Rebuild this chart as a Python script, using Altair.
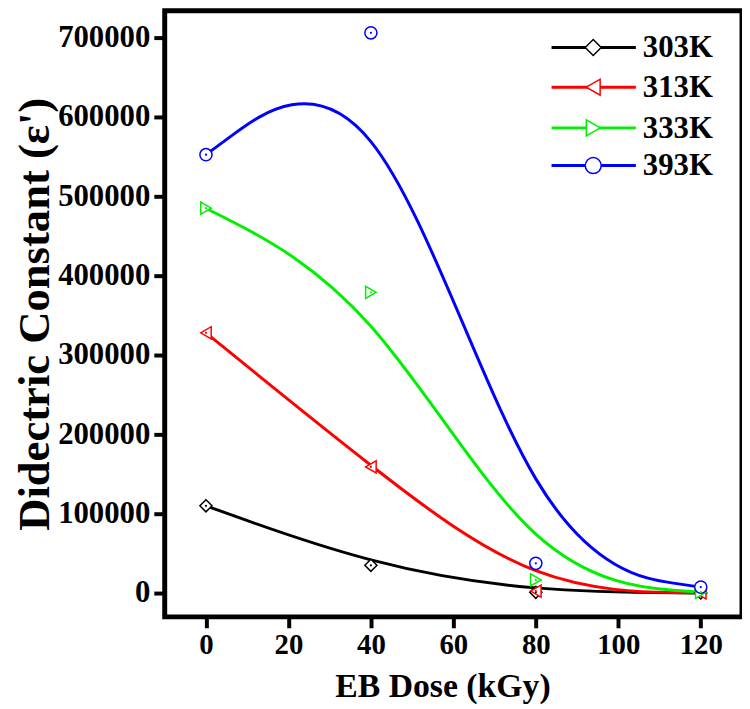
import altair as alt
import pandas as pd

# ---- data ----
dose = [0, 40, 80, 120]
series = ["303K", "313K", "333K", "393K"]
eps_303 = [110000, 35000, 1000, 200]
eps_313 = [328000, 159000, 2500, 300]
eps_333 = [485000, 379000, 16600, 1000]
eps_393 = [552500, 706000, 37500, 7500]
colors = ["#000000", "#ff0000", "#00f000", "#0000ff"]
shapes = ["diamond", "triangle-left", "triangle-right", "circle"]
x_ticks = [0, 20, 40, 60, 80, 100, 120]
y_ticks = [0, 100000, 200000, 300000, 400000, 500000, 600000, 700000]

values = [eps_303, eps_313, eps_333, eps_393]
rows = []
for name, vals in zip(series, values):
    for d, v in zip(dose, vals):
        rows.append({"dose": d, "eps": v, "series": name})
df = pd.DataFrame(rows)

FONT = "Liberation Serif"
W, H = 582, 611

xs = alt.Scale(domain=[-10, 130], nice=False, zero=False)
ys = alt.Scale(domain=[-30000, 733750], nice=False, zero=False)
cs = alt.Scale(domain=series, range=colors)
ss = alt.Scale(domain=series, range=shapes)

x_enc = alt.X(
    "dose:Q", scale=xs, title="EB Dose (kGy)",
    axis=alt.Axis(values=x_ticks, format="d", labelFontSize=29, titleFontSize=34,
                  titleX=280, titleY=80, titleBaseline="alphabetic",
                  labelPadding=3),
)
y_enc = alt.Y(
    "eps:Q", scale=ys, title="Didectric Constant (\u03b5')",
    axis=alt.Axis(values=y_ticks, format="d", labelFontSize=31, titleFontSize=45,
                  titleX=-131, titleBaseline="middle", labelPadding=4),
)

base = alt.Chart(df)
lines = base.mark_line(interpolate="basis", strokeWidth=3).encode(
    x=x_enc, y=y_enc,
    color=alt.Color("series:N", scale=cs, legend=None),
    detail="series:N",
)
pts = base.mark_point(filled=False, fill="white", fillOpacity=1, size=150,
                      strokeWidth=1.5, opacity=1).encode(
    x="dose:Q", y="eps:Q",
    color=alt.Color("series:N", scale=cs, legend=None),
    shape=alt.Shape("series:N", scale=ss, legend=None),
)
dots = base.mark_point(filled=True, size=5, shape="circle", opacity=1).encode(
    x="dose:Q", y="eps:Q",
    color=alt.Color("series:N", scale=cs, legend=None),
)

# ---- hand-drawn legend (line + marker + label) ----
legend_layers = []
row_y = [37, 77, 118, 156]
for name, col, shp, yy in zip(series, colors, shapes, row_y):
    ld = pd.DataFrame({"series": [name]})
    lb = alt.Chart(ld)
    legend_layers.append(
        lb.mark_rule(color=col, strokeWidth=3).encode(
            x=alt.value(390), x2=alt.value(475), y=alt.value(yy))
    )
    legend_layers.append(
        lb.mark_point(shape=shp, filled=False, fill="white", fillOpacity=1,
                      stroke=col, strokeWidth=1.5, size=260, opacity=1).encode(
            x=alt.value(432), y=alt.value(yy))
    )
    legend_layers.append(
        lb.mark_text(align="left", baseline="middle", font=FONT, fontWeight="bold",
                     fontSize=31, color="black").encode(
            x=alt.value(482), y=alt.value(yy + 1), text="series:N")
    )

chart = alt.layer(lines, pts, dots, *legend_layers).properties(
    width=W, height=H,
    padding={"left": 5, "top": 0, "right": 0, "bottom": 0},
).configure_view(
    stroke="black", strokeWidth=5,
).configure_axis(
    domain=False, grid=False,
    tickColor="black", tickWidth=4, tickSize=11,
    labelFont=FONT, labelFontWeight="bold", labelColor="black",
    titleFont=FONT, titleFontWeight="bold", titleColor="black",
)

chart.save("out.html", embed_options={"renderer": "svg", "actions": False})
